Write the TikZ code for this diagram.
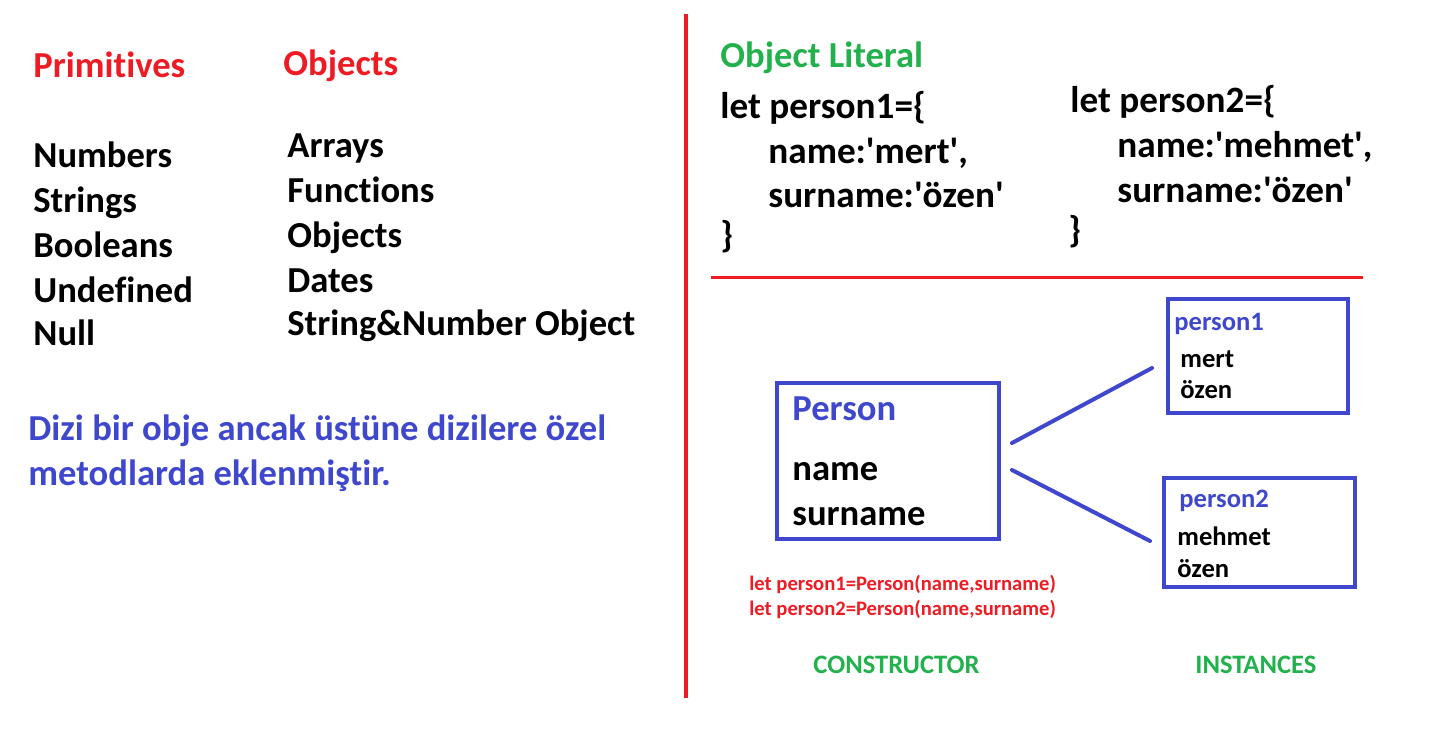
\documentclass[tikz,border=0pt]{standalone}
\usepackage{fontspec}
\setmainfont{Carlito}[Ligatures={NoCommon}]
\usepackage{tikz}
\usetikzlibrary{positioning}

\definecolor{paintred}{HTML}{ED1C24}
\definecolor{paintblue}{HTML}{3F48CC}
\definecolor{paintgreen}{HTML}{22B14C}

\newcommand{\sq}{\textquotesingle}

\begin{document}
\begin{tikzpicture}[
		x=0.5pt, y=-0.5pt,
		bigtext/.style={
			anchor=base west,
			inner sep=0pt,
			font=\bfseries\fontsize{18.3}{22}\selectfont
		},
		codetext/.style={bigtext, font=\bfseries\fontsize{18.6}{22}\selectfont},
		smalltext/.style={
			anchor=base west,
			inner sep=0pt,
			font=\bfseries\fontsize{13.3}{16}\selectfont
		},
		calltext/.style={
			anchor=base west,
			inner sep=0pt,
			text=paintred,
			font=\bfseries\fontsize{10.3}{12}\selectfont
		},
		classbox/.style={
			draw=paintblue,
			line width=2pt,
			inner sep=0pt
		},
		link/.style={draw=paintblue, line width=2pt, line cap=round},
		divider/.style={draw=paintred, line width=1.75pt}
	]
		\useasboundingbox (0,0) rectangle (1440,734);

		% left half: types
		\node[bigtext, text=paintred] (primitives) at (33,77) {Primitives};
		\node[bigtext, text=paintred] (objects) at (283,75) {Objects};

		\node[bigtext] (numbers) at (33,167) {Numbers};
		\node[bigtext] (strings) at (33,212) {Strings};
		\node[bigtext] (booleans) at (33,257) {Booleans};
		\node[bigtext] (undefined) at (33,302) {Undefined};
		\node[bigtext] (null) at (33,345) {Null};

		\node[bigtext] (arrays) at (287,157) {Arrays};
		\node[bigtext] (functions) at (287,202) {Functions};
		\node[bigtext] (objectsitem) at (287,247) {Objects};
		\node[bigtext] (dates) at (287,292) {Dates};
		\node[bigtext] (wrappers) at (287,335) {String\&Number Object};

		\node[bigtext, text=paintblue] (note1) at (28,440) {Dizi bir obje ancak üstüne dizilere özel};
		\node[bigtext, text=paintblue] (note2) at (28,485) {metodlarda eklenmiştir.};

		% dividers
		\coordinate (vtop) at (686,14);
		\coordinate (vbot) at (686,698);
		\coordinate (hleft) at (711,277);
		\coordinate (hright) at (1363,277);
		\draw[divider] (vtop) -- (vbot);
		\draw[divider, line width=1.5pt] (hleft) -- (hright);

		% object literal
		\node[bigtext, text=paintgreen] (literal) at (720,67) {Object Literal};

		\node[codetext] (let1) at (720,118) {let person1=\{};
		\node[codetext] (name1) at (768,163) {name:\sq mert\sq,};
		\node[codetext] (surname1) at (768,207) {surname:\sq özen\sq};
		\node[codetext] (close1) at (720,247) {\}};

		\node[codetext] (let2) at (1070,112) {let person2=\{};
		\node[codetext] (name2) at (1117,157) {name:\sq mehmet\sq,};
		\node[codetext] (surname2) at (1117,202) {surname:\sq özen\sq};
		\node[codetext] (close2) at (1068,242) {\}};

		% constructor and instances
		\node[classbox, minimum width=111pt, minimum height=78pt] (personbox) at (888,461) {};
		\node[bigtext, text=paintblue] (persontitle) at (792,420) {Person};
		\node[bigtext] (personname) at (792,480) {name};
		\node[bigtext] (personsurname) at (792,525) {surname};

		\node[classbox, minimum width=90pt, minimum height=57pt] (inst1box) at (1258,356) {};
		\node[smalltext, text=paintblue] (inst1title) at (1174,330) {person1};
		\node[smalltext] (inst1name) at (1180,367) {mert};
		\node[smalltext] (inst1surname) at (1180,398) {özen};

		\node[classbox, minimum width=95.5pt, minimum height=54.5pt] (inst2box) at (1259.5,532.5) {};
		\node[smalltext, text=paintblue] (inst2title) at (1179,507) {person2};
		\node[smalltext] (inst2name) at (1177,545) {mehmet};
		\node[smalltext] (inst2surname) at (1177,577) {özen};

		\coordinate (link1from) at (1012,443);
		\coordinate (link1to) at (1152,368);
		\coordinate (link2from) at (1012,470);
		\coordinate (link2to) at (1150,541);
		\draw[link] (link1from) -- (link1to);
		\draw[link] (link2from) -- (link2to);

		\node[calltext] (call1) at (749,590) {let person1=Person(name,surname)};
		\node[calltext] (call2) at (749,615) {let person2=Person(name,surname)};

		\node[smalltext, text=paintgreen] (constructor) at (813,673) {CONSTRUCTOR};
		\node[smalltext, text=paintgreen] (instances) at (1195,673) {INSTANCES};
	\end{tikzpicture}
\end{document}
